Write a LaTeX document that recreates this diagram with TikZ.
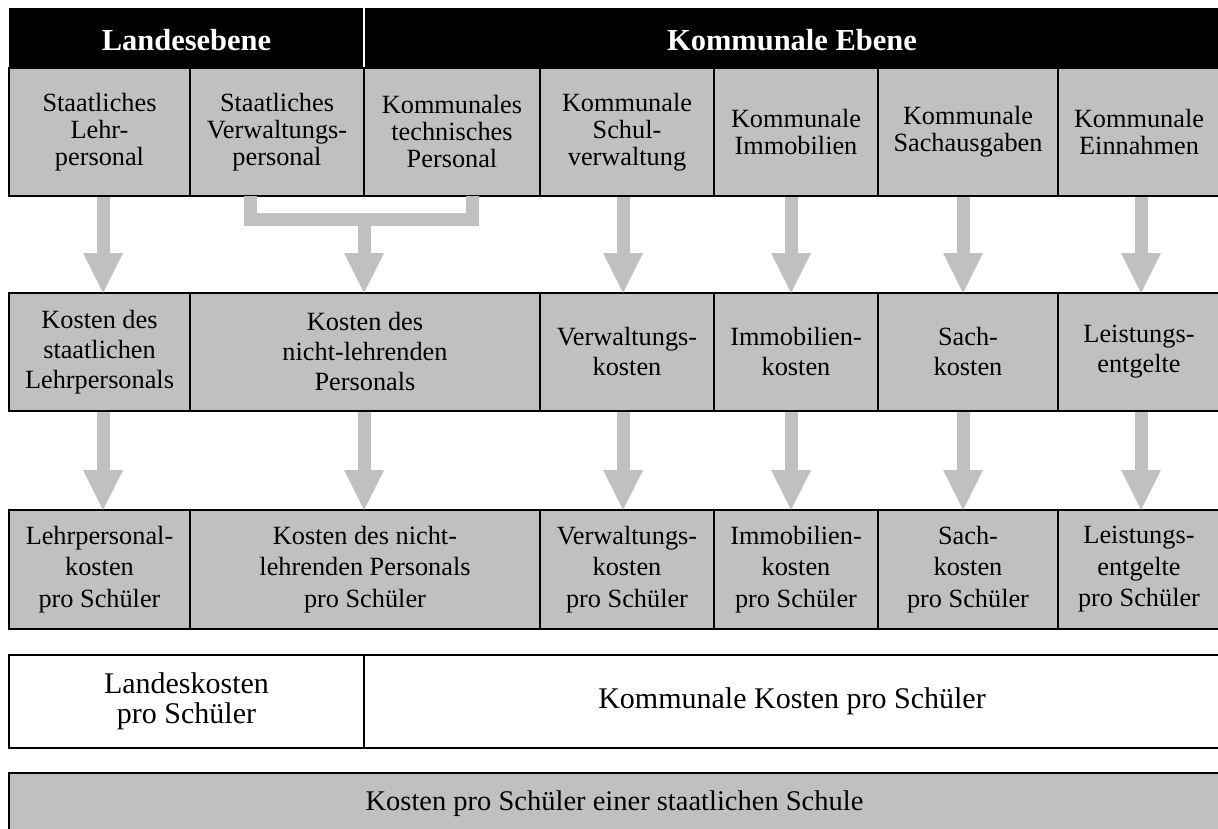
\documentclass[tikz,border=0pt]{standalone}
\usepackage{fontspec}
\setmainfont{Liberation Serif}
\usetikzlibrary{arrows.meta}
\definecolor{cellgray}{RGB}{192,192,192}

\begin{document}
\begin{tikzpicture}[x=1pt,y=-1pt,
		head/.style={fill=black,text=white,inner sep=0pt,outer sep=0pt,anchor=north west,minimum height=60pt,text height=26pt,text depth=0pt,font=\bfseries\fontsize{30.5}{32}\selectfont},
		cell/.style={draw=black,line width=2pt,fill=cellgray,inner sep=0pt,outer sep=0pt,anchor=north west,align=center},
		rowone/.style={cell,minimum height=128pt,font=\fontsize{26.3}{27}\selectfont},
		rowtwo/.style={cell,minimum height=118pt,font=\fontsize{26.3}{30}\selectfont},
		rowthree/.style={cell,minimum height=119pt,font=\fontsize{26.3}{31.5}\selectfont},
		sumcell/.style={cell,fill=white,minimum height=93pt,font=\fontsize{30}{30}\selectfont},
		flowline/.style={draw=cellgray,line width=13pt,line join=miter},
		flow/.style={flowline,shorten <=1pt,-{Triangle[width=40pt,length=40pt,line width=0pt]}}
	]
	\useasboundingbox (0,0) rectangle (1218,829);

	\node[head,minimum width=355pt] (hl) at (9,8) {Landesebene};
	\node[head,minimum width=856pt] (hr) at (364,8) {Kommunale Ebene};
	\draw[white,line width=2pt] (hl.north east) -- (hl.south east);

	\node[rowone,minimum width=181pt] (r1a) at (9,68) {Staatliches\\Lehr-\\personal};
	\node[rowone,minimum width=174pt] (r1b) at (190,68) {Staatliches\\Verwaltungs-\\personal};
	\node[rowone,minimum width=176pt] (r1c) at (364,68) {Kommunales\\technisches\\Personal};
	\node[rowone,minimum width=174pt] (r1d) at (540,68) {Kommunale\\Schul-\\verwaltung};
	\node[rowone,minimum width=164pt] (r1e) at (714,68) {Kommunale\\Immobilien};
	\node[rowone,minimum width=180pt] (r1f) at (878,68) {Kommunale\\Sachausgaben};
	\node[rowone,minimum width=162pt] (r1g) at (1058,68) {Kommunale\\Einnahmen};

	\node[rowtwo,minimum width=181pt] (r2a) at (9,293) {Kosten des\\staatlichen\\Lehrpersonals};
	\node[rowtwo,minimum width=350pt] (r2b) at (190,293) {Kosten des\\nicht-lehrenden\\Personals};
	\node[rowtwo,minimum width=174pt] (r2c) at (540,293) {Verwaltungs-\\kosten};
	\node[rowtwo,minimum width=164pt] (r2d) at (714,293) {Immobilien-\\kosten};
	\node[rowtwo,minimum width=180pt] (r2e) at (878,293) {Sach-\\kosten};
	\node[rowtwo,minimum width=162pt] (r2f) at (1058,293) {Leistungs-\\entgelte};

	\node[rowthree,minimum width=181pt] (r3a) at (9,510) {Lehrpersonal-\\kosten\\pro Schüler};
	\node[rowthree,minimum width=350pt] (r3b) at (190,510) {Kosten des nicht-\\lehrenden Personals\\pro Schüler};
	\node[rowthree,minimum width=174pt] (r3c) at (540,510) {Verwaltungs-\\kosten\\pro Schüler};
	\node[rowthree,minimum width=164pt] (r3d) at (714,510) {Immobilien-\\kosten\\pro Schüler};
	\node[rowthree,minimum width=180pt] (r3e) at (878,510) {Sach-\\kosten\\pro Schüler};
	\node[rowthree,minimum width=162pt] (r3f) at (1058,510) {Leistungs-\\entgelte\\pro Schüler};

	\node[sumcell,minimum width=355pt] (land) at (9,655) {Landeskosten\\pro Schüler};
	\node[sumcell,minimum width=856pt] (komm) at (364,655) {Kommunale Kosten pro Schüler};

	\node[cell,minimum width=1211pt,minimum height=62pt,font=\fontsize{28.5}{30}\selectfont] (total) at (9,773) {Kosten pro Schüler einer staatlichen Schule};

	\coordinate (join) at (364,220);
	\draw[flowline] ([xshift=-26.5pt]r1b.south) |- (join) -| ([xshift=20.5pt]r1c.south);
	\draw[flow] (join) -- (join |- r2b.north);
	\draw[flow] ([xshift=3.5pt]r1a.south) -- ([xshift=3.5pt]r2a.north);
	\draw[flow] ([xshift=-4pt]r1d.south) -- ([xshift=-4pt]r2c.north);
	\draw[flow] ([xshift=-5pt]r1e.south) -- ([xshift=-5pt]r2d.north);
	\draw[flow] ([xshift=-5pt]r1f.south) -- ([xshift=-5pt]r2e.north);
	\draw[flow] ([xshift=2pt]r1g.south) -- ([xshift=2pt]r2f.north);

	\draw[flow] ([xshift=3.5pt]r2a.south) -- ([xshift=3.5pt]r3a.north);
	\draw[flow] ([xshift=-1pt]r2b.south) -- ([xshift=-1pt]r3b.north);
	\draw[flow] ([xshift=-4pt]r2c.south) -- ([xshift=-4pt]r3c.north);
	\draw[flow] ([xshift=-5pt]r2d.south) -- ([xshift=-5pt]r3d.north);
	\draw[flow] ([xshift=-5pt]r2e.south) -- ([xshift=-5pt]r3e.north);
	\draw[flow] ([xshift=2pt]r2f.south) -- ([xshift=2pt]r3f.north);
\end{tikzpicture}
\end{document}
